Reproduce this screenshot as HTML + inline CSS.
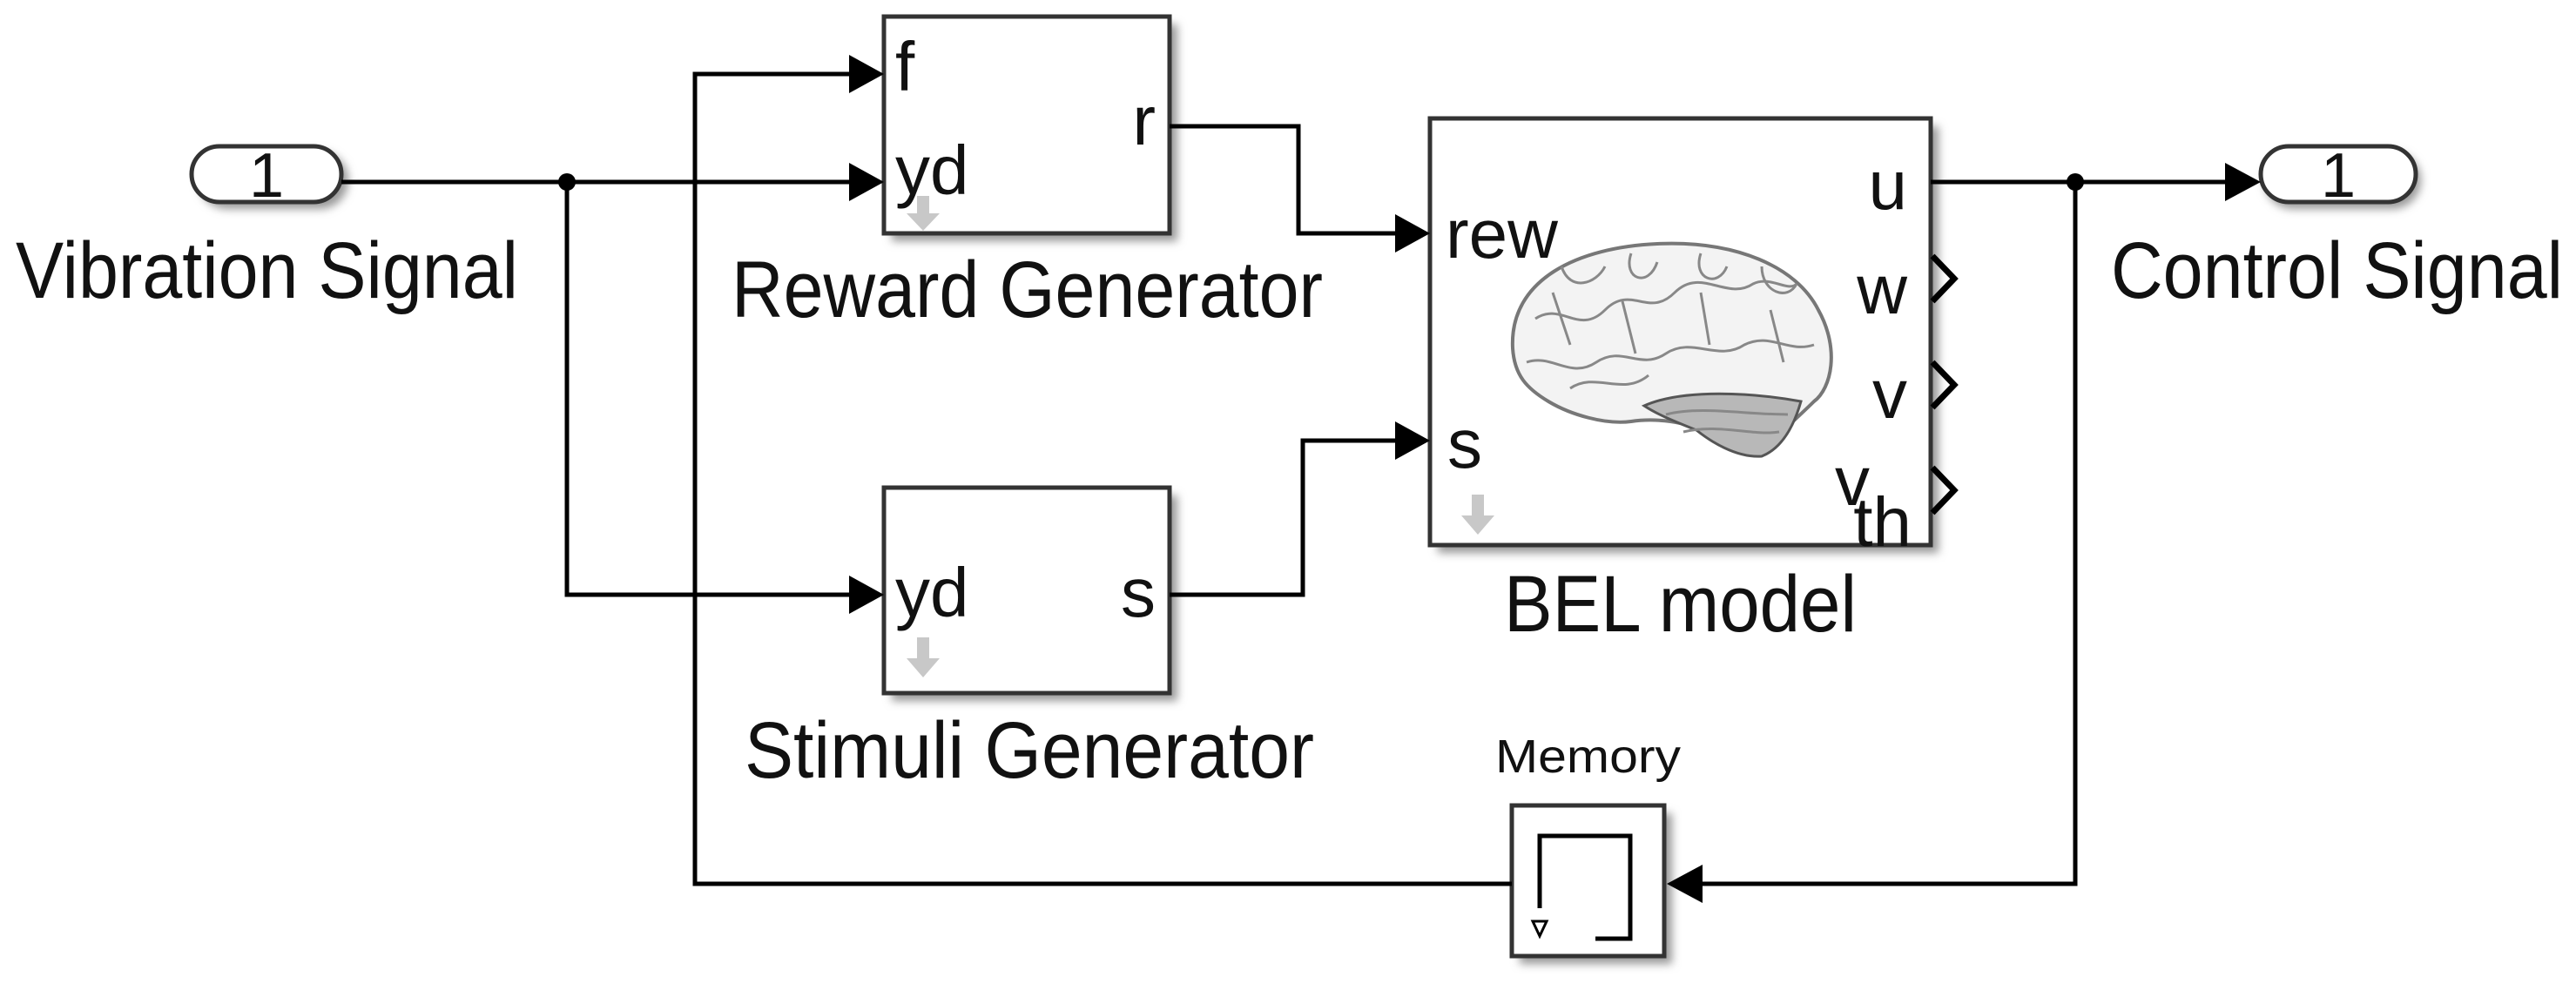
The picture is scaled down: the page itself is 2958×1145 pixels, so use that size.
<!DOCTYPE html>
<html><head><meta charset="utf-8"><style>
html,body{margin:0;padding:0;background:#fff;}
svg{display:block}
text{font-family:"Liberation Sans",sans-serif;fill:#111}
</style></head><body>
<svg width="2958" height="1145" viewBox="0 0 2958 1145" xmlns="http://www.w3.org/2000/svg">
<defs>
<filter id="sh" x="-10%" y="-10%" width="130%" height="130%"><feGaussianBlur stdDeviation="5"/></filter>
</defs>
<g fill="#999" filter="url(#sh)">
<rect x="1024" y="28" width="328" height="249"/>
<rect x="1024" y="569" width="328" height="236"/>
<rect x="1651" y="145" width="575" height="490"/>
<rect x="1745" y="934" width="175" height="173"/>
<rect x="228" y="174" width="172" height="66" rx="33"/>
<rect x="2600" y="174" width="180" height="66" rx="33"/>
</g>
<g fill="#fff" stroke="#333" stroke-width="5">
<rect x="1015" y="19" width="328" height="249"/>
<rect x="1015" y="560" width="328" height="236"/>
<rect x="1642" y="136" width="575" height="490"/>
<rect x="1736" y="925" width="175" height="173"/>
<rect x="220" y="168" width="172" height="64" rx="32"/>
<rect x="2596" y="168" width="178" height="64" rx="32"/>
</g>
<g fill="none" stroke="#000" stroke-width="5">
<path d="M392 209 H980"/>
<path d="M651 209 V683 H980"/>
<path d="M1736 1015 H798 V85 H980"/>
<path d="M1343 145 H1491 V268 H1607"/>
<path d="M1343 683 H1496 V506 H1607"/>
<path d="M2217 209 H2560"/>
<path d="M2383 209 V1015 H1950"/>
</g>
<circle cx="651" cy="209" r="10"/>
<circle cx="2383" cy="209" r="10"/>
<g fill="#000">
<path d="M975 63 L1015 85 L975 107 Z"/>
<path d="M975 187 L1015 209 L975 231 Z"/>
<path d="M975 661 L1015 683 L975 705 Z"/>
<path d="M1602 246 L1642 268 L1602 290 Z"/>
<path d="M1602 484 L1642 506 L1602 528 Z"/>
<path d="M2555 187 L2596 209 L2555 231 Z"/>
<path d="M1955 993 L1914 1015 L1955 1037 Z"/>
</g>
<g fill="none" stroke="#000" stroke-width="7">
<path d="M2219 294 L2244 320 L2219 346"/>
<path d="M2219 416 L2244 442 L2219 468"/>
<path d="M2219 537 L2244 563 L2219 589"/>
</g>
<g fill="#c8c8c8">
<path d="M1053 225 h14 v20 h12 l-19 20 l-19 -20 h12 z"/>
<path d="M1053 732 h14 v24 h12 l-19 22 l-19 -22 h12 z"/>
<path d="M1690 568 h14 v24 h12 l-19 22 l-19 -22 h12 z"/>
</g>
<path d="M1768 1043 V960 H1872 V1078 H1832" fill="none" stroke="#000" stroke-width="5"/>
<path d="M1760 1058 L1776 1058 L1768 1075 Z" fill="none" stroke="#000" stroke-width="3"/>
<g>
<path d="M1737 400 C1733 320 1813 284 1903 280 C1993 276 2063 306 2088 356 C2113 401 2103 446 2083 461 C2063 481 2043 496 2033 516 C2003 526 1973 511 1958 496 C1928 481 1893 481 1873 484 C1843 488 1803 476 1778 461 C1753 446 1739 431 1737 400 Z" fill="#f3f3f3" stroke="#777" stroke-width="4"/>
<path d="M1888 466 C1933 446 2013 451 2068 461 C2058 496 2043 516 2023 524 C1993 526 1963 506 1948 494 C1923 484 1903 476 1888 466 Z" fill="#b8b8b8" stroke="#555" stroke-width="3"/>
<g fill="none" stroke="#888" stroke-width="3">
<path d="M1763 366 C1793 346 1813 386 1843 356 C1873 326 1893 366 1923 336 C1953 306 1983 346 2013 326 C2033 316 2053 336 2063 326"/>
<path d="M1753 416 C1783 406 1803 436 1833 416 C1863 396 1883 426 1913 406 C1943 386 1973 416 2003 396 C2033 381 2053 406 2083 396"/>
<path d="M1793 306 C1803 336 1833 326 1843 306 M1873 291 C1863 321 1893 331 1903 301 M1953 291 C1943 321 1973 331 1983 306 M2023 306 C2023 336 2053 346 2063 326"/>
<path d="M1803 446 C1833 426 1863 456 1893 431 M1783 336 L1803 396 M1863 346 L1878 406 M1953 336 L1963 396 M2033 356 L2048 416"/>
<path d="M1913 476 C1953 466 2003 476 2053 476 M1933 496 C1973 486 2013 501 2043 496"/>
</g>
</g>
<g font-size="72">
<text x="306" y="226" text-anchor="middle">1</text>
<text x="2685" y="226" text-anchor="middle">1</text>
</g>
<g font-size="92">
<text x="18" y="342" textLength="577" lengthAdjust="spacingAndGlyphs">Vibration Signal</text>
<text x="840" y="364" textLength="679" lengthAdjust="spacingAndGlyphs">Reward Generator</text>
<text x="855" y="893" textLength="654" lengthAdjust="spacingAndGlyphs">Stimuli Generator</text>
<text x="1727" y="725" textLength="405" lengthAdjust="spacingAndGlyphs">BEL model</text>
<text x="2424" y="342" textLength="519" lengthAdjust="spacingAndGlyphs">Control Signal</text>
</g>
<g font-size="80">
<text x="1028" y="104">f</text>
<text x="1028" y="223">yd</text>
<text x="1327" y="166" text-anchor="end">r</text>
<text x="1028" y="708">yd</text>
<text x="1327" y="708" text-anchor="end">s</text>
<text x="1660" y="296">rew</text>
<text x="1662" y="537">s</text>
<text x="2190" y="240" text-anchor="end">u</text>
<text x="2190" y="360" text-anchor="end">w</text>
<text x="2190" y="480" text-anchor="end">v</text>
<text x="2147" y="580" text-anchor="end">v</text>
<text x="2195" y="627" text-anchor="end">th</text>
</g>
<text x="1717" y="887" font-size="54" textLength="213" lengthAdjust="spacingAndGlyphs">Memory</text>
</svg>
</body></html>
